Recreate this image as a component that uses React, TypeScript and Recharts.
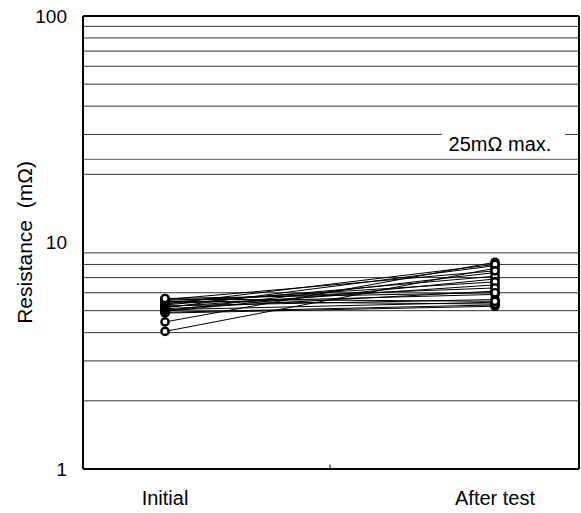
import React from 'react';
import { LineChart, Line, XAxis, YAxis, ReferenceLine } from 'recharts';

const categories = ['Initial', 'After test'];
const initialValues = [4.05, 4.46, 4.88, 4.92, 4.97, 5.0, 5.05, 5.1, 5.15, 5.2, 5.25, 5.3, 5.35, 5.4, 5.45, 5.5, 5.55, 5.6, 5.63, 5.66];
const afterValues = [7.7, 8.18, 5.23, 5.3, 6.9, 7.37, 5.45, 6.1, 7.9, 6.5, 5.6, 7.1, 8.0, 5.9, 6.7, 5.35, 6.3, 7.5, 5.5, 6.0];
const yTicks = [1, 10, 100];
const gridValues = [2, 3, 4, 5, 6, 7, 8, 9, 20, 30, 40, 50, 60, 70, 80, 90];
const limitValue = 23.3;
const limitLabel = '25m\u03A9 max.';
const yLabel = 'Resistance  (m\u03A9)';
const xDomain: [number, number] = [-0.2485, 1.2545];
const FONT = "'Liberation Sans', Arial, sans-serif";

const series = initialValues.map((v, i) => [
  { x: 0, y: v },
  { x: 1, y: afterValues[i] },
]);

const renderLimitLabel = (props: any) => {
  const vb = props.viewBox || {};
  const right = vb.x + vb.width;
  const y = vb.y;
  return (
    <g>
      <rect x={right - 137} y={y - 26} width={123} height={20} fill="#fff" />
      <text x={right - 79} y={y - 8} textAnchor="middle" fontSize={20} fontFamily={FONT} fill="#000">
        {limitLabel}
      </text>
    </g>
  );
};

const renderYLabel = (props: any) => {
  const vb = props.viewBox || {};
  const cx = vb.x + 24;
  const cy = vb.y + vb.height / 2;
  return (
    <text
      x={cx}
      y={cy}
      dy="0.36em"
      textAnchor="middle"
      fontSize={21}
      fontFamily={FONT}
      fill="#000"
      transform={`rotate(-90, ${cx}, ${cy})`}
      style={{ whiteSpace: 'pre' }}
    >
      {yLabel}
    </text>
  );
};

export default function App() {
  return (
    <div style={{ position: 'absolute', left: 0, top: 0, width: 581, height: 513, background: '#fff' }}>
      <LineChart width={581} height={513} margin={{ top: 16, right: 2, left: 0, bottom: 0 }}>
        <XAxis
          dataKey="x"
          type="number"
          domain={xDomain}
          allowDataOverflow
          ticks={[0, 1]}
          tickFormatter={(v: number) => categories[v] ?? ''}
          height={44}
          tickLine={false}
          tickSize={0}
          tickMargin={22}
          axisLine={{ stroke: '#000', strokeWidth: 2 }}
          tick={{ fontSize: 20, fill: '#000', fontFamily: FONT }}
        />
        <YAxis
          dataKey="y"
          scale="log"
          domain={[1, 100]}
          allowDataOverflow
          ticks={yTicks}
          width={83}
          tickLine={false}
          tickSize={0}
          tickMargin={16}
          axisLine={{ stroke: '#000', strokeWidth: 2 }}
          tick={{ fontSize: 19, fill: '#000', fontFamily: FONT }}
          label={renderYLabel}
        />
        {gridValues.map((g) => (
          <ReferenceLine key={g} y={g} stroke="#333" strokeWidth={1} ifOverflow="visible" />
        ))}
        <ReferenceLine y={limitValue} stroke="#555" strokeWidth={1} ifOverflow="visible" label={renderLimitLabel} />
        <ReferenceLine y={100} stroke="#000" strokeWidth={2} ifOverflow="visible" />
        <ReferenceLine x={xDomain[1]} stroke="#000" strokeWidth={2} ifOverflow="visible" />
        <ReferenceLine
          segment={[{ x: 0.5, y: 1 }, { x: 0.5, y: 1.045 }]}
          stroke="#777"
          strokeWidth={2}
          ifOverflow="visible"
        />
        {series.map((d, i) => (
          <Line
            key={i}
            data={d}
            dataKey="y"
            stroke="#000"
            strokeWidth={1}
            isAnimationActive={false}
            dot={{ r: 3.6, fill: '#fff', stroke: '#000', strokeWidth: 2.4 }}
            activeDot={false}
          />
        ))}
      </LineChart>
    </div>
  );
}
